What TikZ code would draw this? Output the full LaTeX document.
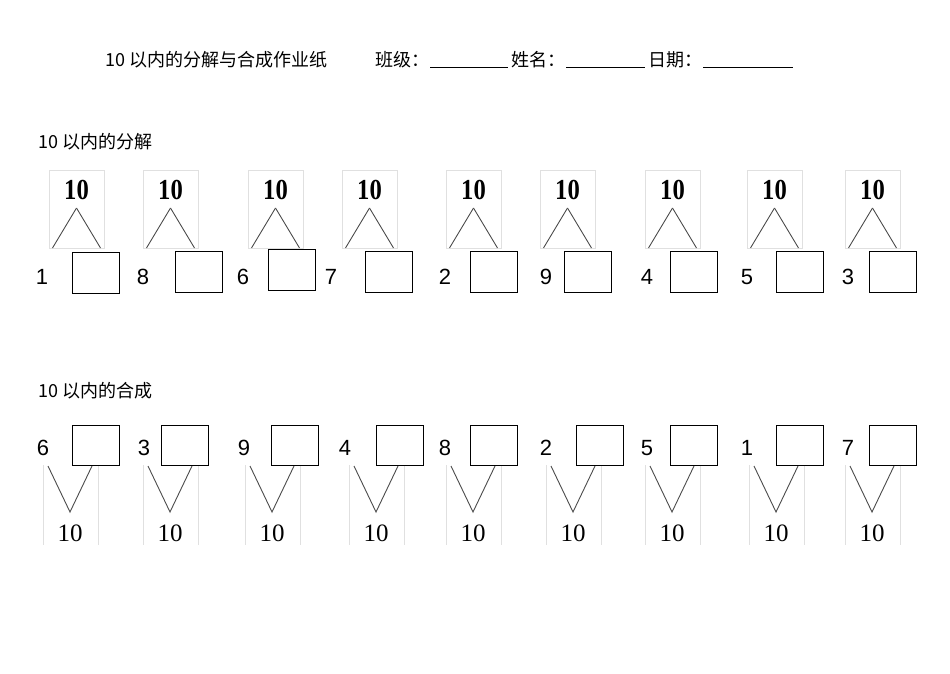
\documentclass[tikz,border=0pt]{standalone}
\usepackage{fontspec}
\setmainfont{Liberation Sans}
\newfontfamily\cjk{Noto Sans CJK SC}
\newfontfamily\tms{Liberation Serif}
\begin{document}
\begin{tikzpicture}[x=1pt,y=-1pt,
  frame/.style={draw=black!12,line width=0.6pt},
  ansbox/.style={draw=black,line width=0.8pt},
  num/.style={font=\fontsize{22}{22}\selectfont,inner sep=0pt},
  ten/.style={font=\tms\bfseries\fontsize{29}{29}\selectfont,inner sep=0pt,xscale=0.85},
  tenb/.style={font=\tms\fontsize{25}{25}\selectfont,inner sep=0pt},
  hd/.style={font=\cjk\fontsize{18}{18}\selectfont,inner sep=0pt,anchor=west},
  leg/.style={draw=black!70,line width=0.9pt}]
\useasboundingbox[fill=white] (0,0) rectangle (950,674);
\node[hd] (title) at (105,60) {10 以内的分解与合成作业纸};
\node[hd] (cls) at (375,60) {班级：};
\draw (430,67) -- (508,67);
\node[hd] (nm) at (511,60) {姓名：};
\draw (566,67) -- (645,67);
\node[hd] (dt) at (648,60) {日期：};
\draw (703,67) -- (793,67);
\node[hd] (h1) at (38,142) {10 以内的分解};
\node[hd] (h2) at (38,391) {10 以内的合成};
\foreach \fx/\nx/\n/\bx/\by [count=\i] in {49/42/1/72/252, 143/143/8/175/251, 248/243/6/268/249, 342/331/7/365/251, 446/445/2/470/251, 540/546/9/564/251, 645/647/4/670/251, 747/747/5/776/251, 845/848/3/869/251}{
  \draw[frame] (\fx,170) rectangle +(55,78);
  \node[ten] (t\i) at (\fx+27.5,190) {10};
  \coordinate (a\i) at (\fx+27.5,208);
  \draw[leg] (a\i) -- +(-24,40);
  \draw[leg] (a\i) -- +(24,40);
  \node[num] (n\i) at (\nx,277) {\n};
  \draw[ansbox] (\bx,\by) rectangle +(47,41);
}
\foreach \fx/\nx/\n/\bx [count=\i] in {43/43/6/72, 143/144/3/161, 245/244/9/271, 349/345/4/376, 446/445/8/470, 546/546/2/576, 645/647/5/670, 749/747/1/776, 845/848/7/869}{
  \draw[frame] (\fx,465) -- +(0,80) (\fx+55,465) -- +(0,80);
  \coordinate (v\i) at (\fx+27,512);
  \draw[leg] (\fx+5,466) -- (v\i) -- (\fx+49,466);
  \node[tenb] (b\i) at (\fx+27,533) {10};
  \node[num] (m\i) at (\nx,448) {\n};
  \draw[ansbox] (\bx,425) rectangle +(47,40);
}
\end{tikzpicture}
\end{document}
